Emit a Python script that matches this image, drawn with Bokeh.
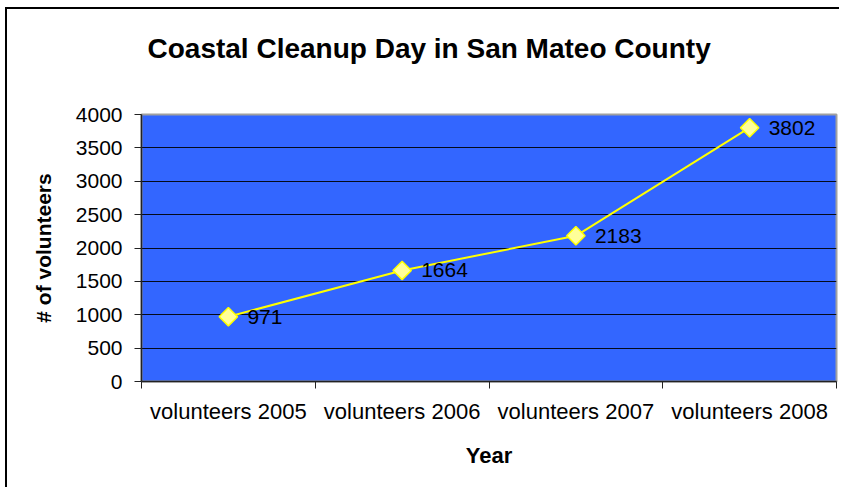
import math
from bokeh.plotting import figure
from bokeh.models import Range1d, FixedTicker, Title, ColumnDataSource
from bokeh.embed import file_html
from bokeh.resources import INLINE
from bokeh.core.properties import value

categories = ["volunteers 2005", "volunteers 2006", "volunteers 2007", "volunteers 2008"]
volunteers = [971, 1664, 2183, 3802]
y_ticks = [0, 500, 1000, 1500, 2000, 2500, 3000, 3500, 4000]

title_text = "Coastal Cleanup Day in San Mateo County"
x_label = "Year"
y_label = "# of volunteers"

FONT = "Liberation Sans"

xs = [i + 0.5 for i in range(len(categories))]
src = ColumnDataSource(dict(x=xs, y=volunteers, lab=[str(v) for v in volunteers]))

p = figure(width=834, height=480, output_backend="svg", toolbar_location=None,
           x_range=Range1d(0, len(categories)), y_range=Range1d(0, 4000),
           min_border_left=134, min_border_right=5, min_border_top=105, min_border_bottom=108)
p.styles = {"margin-left": "5px", "margin-top": "7px",
            "border-left": "2px solid black", "border-top": "2px solid black"}

p.background_fill_color = "#3366FF"
p.border_fill_color = "white"
p.outline_line_color = "#A0A0A0"
p.outline_line_width = 2

# grid
p.xgrid.visible = False
p.ygrid.ticker = FixedTicker(ticks=y_ticks[1:-1])
p.ygrid.grid_line_color = "black"
p.ygrid.grid_line_width = 1.2
p.ygrid.grid_line_alpha = 0.9

# x axis
xa = p.xaxis[0]
xa.ticker = FixedTicker(ticks=xs, minor_ticks=list(range(len(categories) + 1)))
xa.major_label_overrides = {x: c for x, c in zip(xs, categories)}
xa.major_tick_line_color = None
xa.minor_tick_line_color = "#222222"
xa.minor_tick_out = 7
xa.minor_tick_in = 0
xa.axis_line_color = "#222222"
xa.axis_line_width = 1.5
xa.major_label_text_font = FONT
xa.major_label_text_font_size = "22px"
xa.major_label_text_color = "black"
xa.major_label_standoff = 10
xa.axis_label = x_label
xa.axis_label_text_font = FONT
xa.axis_label_text_font_size = "22px"
xa.axis_label_text_font_style = "bold"
xa.axis_label_text_color = "black"
xa.axis_label_standoff = 16

# y axis
ya = p.yaxis[0]
ya.ticker = FixedTicker(ticks=y_ticks)
ya.minor_tick_line_color = None
ya.major_tick_line_color = "#222222"
ya.major_tick_out = 7
ya.major_tick_in = 0
ya.axis_line_color = "#222222"
ya.axis_line_width = 1.5
ya.major_label_text_font = FONT
ya.major_label_text_font_size = "21px"
ya.major_label_text_color = "black"
ya.major_label_standoff = 12
ya.axis_label = y_label
ya.axis_label_text_font = FONT
ya.axis_label_text_font_size = "21px"
ya.axis_label_text_font_style = "bold"
ya.axis_label_text_color = "black"
ya.axis_label_standoff = 18

# series
p.line("x", "y", source=src, line_color="#FFFF00", line_width=2)
p.scatter("x", "y", source=src, marker="square", angle=math.pi / 4, size=13,
          fill_color="#FFFF99", line_color="#FFFF00", line_width=1.5)
p.text("x", "y", text="lab", source=src, x_offset=19, text_baseline="middle",
       text_align="left", text_font=value(FONT), text_font_size="21px", text_color="black")

# title (an extra blank line below plus standoff lift it above the plot area)
p.add_layout(Title(text=title_text + "\n ", align="left", offset=6, standoff=39,
                   text_font=FONT, text_font_size="28px", text_font_style="bold",
                   text_color="black", text_line_height=1.0), "above")

open("out.html", "w").write(file_html(p, INLINE))
